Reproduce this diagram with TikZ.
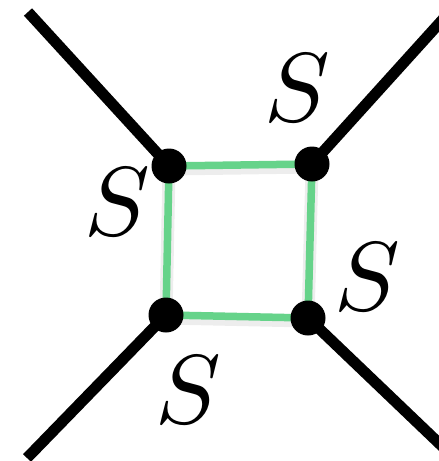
\documentclass[tikz,border=0pt]{standalone}
\usepackage{graphicx}
\begin{document}
\begin{tikzpicture}[x=1pt,y=-1pt,
  leg/.style={line width=11pt,black},
  rung/.style={line width=7.5pt,draw={rgb,255:red,102;green,211;blue,138}},
  shade/.style={line width=13pt,draw=black,opacity=0.07},
  vertex/.style={circle,fill=black,inner sep=0pt,minimum size=35pt},
  lab/.style={inner sep=0pt}]
\useasboundingbox (0,0) rectangle (439,461);
\coordinate (a) at (169,166);
\coordinate (b) at (312,164);
\coordinate (c) at (308,318);
\coordinate (d) at (166,315);
\coordinate (ea) at (28,12);
\coordinate (eb) at (445,17);
\coordinate (ec) at (445,449);
\coordinate (ed) at (27,458);
\draw[leg] (ea) -- (a);
\draw[leg] (eb) -- (b);
\draw[leg] (ec) -- (c);
\draw[leg] (ed) -- (d);
\draw[shade] ([yshift=-3pt]a) -- ([yshift=-3pt]b) -- ([yshift=-3pt]c) -- ([yshift=-3pt]d) -- cycle;
\draw[rung] (a) -- (b) -- (c) -- (d) -- cycle;
\node[vertex] (va) at (a) {};
\node[vertex] (vb) at (b) {};
\node[vertex] (vc) at (c) {};
\node[vertex] (vd) at (d) {};
\node[lab] (s1) at (297,88) {\scalebox{9.8}{$S$}};
\node[lab] (s2) at (117,202) {\scalebox{9.8}{$S$}};
\node[lab] (s3) at (367,277) {\scalebox{9.8}{$S$}};
\node[lab] (s4) at (188,390) {\scalebox{9.8}{$S$}};
\end{tikzpicture}
\end{document}
